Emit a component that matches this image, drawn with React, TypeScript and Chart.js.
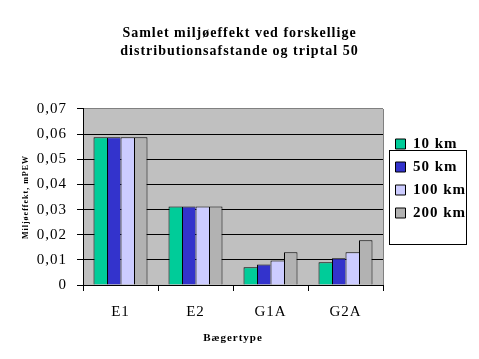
import React, { useEffect, useRef } from 'react';
import { Chart, registerables } from 'chart.js';

Chart.register(...registerables);

const categories = ['E1', 'E2', 'G1A', 'G2A'];
const seriesNames = ['10 km', '50 km', '100 km', '200 km'];
const values10km = [0.0588, 0.0312, 0.0071, 0.009];
const values50km = [0.0588, 0.0312, 0.0082, 0.0106];
const values100km = [0.0588, 0.0312, 0.0097, 0.013];
const values200km = [0.0588, 0.0312, 0.013, 0.0178];
const seriesValues = [values10km, values50km, values100km, values200km];
const seriesColors = ['#00CC99', '#3333CC', '#CCCCFF', '#B2B2B2'];
const yTickLabels = ['0', '0,01', '0,02', '0,03', '0,04', '0,05', '0,06', '0,07'];
const titleLines = ['Samlet miljøeffekt ved forskellige', 'distributionsafstande og triptal 50'];
const yAxisTitle = 'Miljøeffekt, mPEW';
const xAxisTitle = 'Bægertype';

const FONT = "'Liberation Serif', 'Times New Roman', serif";

const setSpacing = (chart: any) => {
  try {
    (chart.ctx as any).letterSpacing = '1px';
  } catch (e) {
    /* ignore */
  }
};

const decorPlugin = {
  id: 'decor',
  beforeUpdate(chart: any) {
    setSpacing(chart);
  },
  afterLayout(chart: any) {
    const lg = chart.legend;
    if (!lg) return;
    const dx = 4.5;
    const dy = 4;
    lg.left += dx;
    lg.right += dx;
    lg.top += dy;
    lg.bottom += dy;
  },
  beforeDraw(chart: any) {
    setSpacing(chart);
    const { ctx, chartArea: a } = chart;
    ctx.save();
    ctx.fillStyle = '#C0C0C0';
    ctx.fillRect(a.left, a.top, a.right - a.left, a.bottom - a.top);
    ctx.restore();
  },
  afterDraw(chart: any) {
    const { ctx, chartArea: a } = chart;
    ctx.save();
    ctx.lineWidth = 1;
    ctx.strokeStyle = '#808080';
    const rx = Math.round(a.right) + 0.5;
    ctx.beginPath();
    ctx.moveTo(rx, Math.round(a.top));
    ctx.lineTo(rx, Math.round(a.bottom));
    ctx.stroke();
    const mid = Math.round((a.top + a.bottom) / 2);
    ctx.strokeStyle = '#000000';
    ctx.strokeRect(Math.round(a.right) + 6.5, mid - 46.5, 77, 94);
    ctx.restore();
  },
};

export default function App() {
  const canvasRef = useRef<HTMLCanvasElement | null>(null);

  useEffect(() => {
    document.body.style.margin = '0';
    const canvas = canvasRef.current;
    if (!canvas) return;
    Chart.defaults.font.family = FONT;
    Chart.defaults.color = '#000000';

    const chart = new Chart(canvas, {
      type: 'bar',
      data: {
        labels: categories,
        datasets: seriesNames.map((name, i) => ({
          label: name,
          data: seriesValues[i],
          backgroundColor: seriesColors[i],
          borderColor: '#000000',
          borderWidth:
            i === seriesNames.length - 1
              ? { top: 1, left: 1, right: 1, bottom: 0 }
              : { top: 1, left: 1, right: 0, bottom: 0 },
          borderSkipped: false,
          barPercentage: 1,
          categoryPercentage: 0.72,
        })),
      },
      options: {
        responsive: false,
        animation: false,
        devicePixelRatio: 1,
        layout: { padding: { top: 0, left: 16, right: 16, bottom: 10 } },
        plugins: {
          title: {
            display: true,
            text: titleLines,
            color: '#000000',
            font: { family: FONT, size: 14, weight: 'bold', lineHeight: 1.307 },
            padding: { top: 24.4, bottom: 48 },
          },
          legend: {
            display: true,
            position: 'right',
            maxWidth: 80,
            labels: {
              boxWidth: 10,
              boxHeight: 10,
              padding: 8,
              color: '#000000',
              font: { family: FONT, size: 15, weight: 'bold' },
              generateLabels: (c: any) =>
                (Chart.defaults.plugins.legend.labels.generateLabels as any)(c).map((l: any) => ({
                  ...l,
                  lineWidth: 1,
                  strokeStyle: '#000000',
                  fillStyle: seriesColors[l.datasetIndex],
                })),
            },
          },
          tooltip: { enabled: false },
        },
        scales: {
          x: {
            afterFit: (scale: any) => {
              scale.height = 64;
            },
            grid: {
              display: true,
              drawOnChartArea: false,
              drawTicks: true,
              tickLength: 6,
              color: '#000000',
              tickColor: '#000000',
              offset: true,
            },
            border: { display: true, color: '#000000', width: 1 },
            ticks: {
              color: '#000000',
              font: { family: FONT, size: 15 },
              padding: 12,
              maxRotation: 0,
            },
            title: {
              display: true,
              text: xAxisTitle,
              color: '#000000',
              font: { family: FONT, size: 11, weight: 'bold' },
              padding: { top: 0, bottom: 4 },
            },
          },
          y: {
            min: 0,
            max: 0.07,
            afterFit: (scale: any) => {
              scale.width = 67;
            },
            grid: {
              display: true,
              drawTicks: true,
              tickLength: 6,
              color: (ctx: any) => (ctx.tick && ctx.tick.value > 0.0695 ? '#808080' : '#000000'),
              tickColor: '#000000',
            },
            border: { display: true, color: '#000000', width: 1 },
            ticks: {
              stepSize: 0.01,
              color: '#000000',
              font: { family: FONT, size: 15 },
              padding: 10,
              callback: (_v: any, i: number) => yTickLabels[i],
            },
            title: {
              display: true,
              text: yAxisTitle,
              color: '#000000',
              font: { family: FONT, size: 8, weight: 'bold' },
              padding: { top: 5, bottom: 0 },
            },
          },
        },
      },
      plugins: [decorPlugin],
    } as any);

    return () => {
      chart.destroy();
    };
  }, []);

  return (
    <div style={{ position: 'absolute', left: 0, top: 0, width: 479, height: 359, background: '#ffffff' }}>
      <canvas ref={canvasRef} width={479} height={359} style={{ display: 'block' }} />
    </div>
  );
}
